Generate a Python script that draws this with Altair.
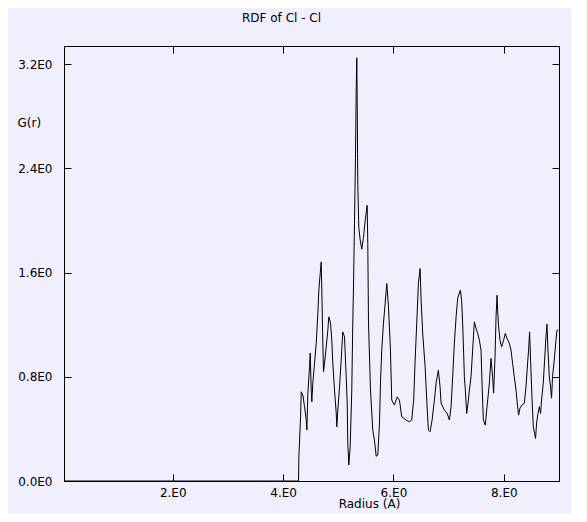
import altair as alt
import pandas as pd

radius = [0.03, 4.280, 4.286, 4.317, 4.329, 4.358, 4.389, 4.420, 4.431, 4.449, 4.480, 4.492,
          4.510, 4.521, 4.539, 4.570, 4.601, 4.630, 4.648, 4.673, 4.691, 4.702, 4.720, 4.733,
          4.751, 4.782, 4.811, 4.829, 4.860, 4.883, 4.901, 4.932, 4.963, 4.974, 4.992, 5.023,
          5.053, 5.082, 5.113, 5.144, 5.162, 5.173, 5.191, 5.216, 5.245, 5.263, 5.276, 5.294,
          5.312, 5.325, 5.336, 5.343, 5.354, 5.372, 5.397, 5.426, 5.457, 5.488, 5.524, 5.535,
          5.548, 5.584, 5.625, 5.656, 5.687, 5.716, 5.747, 5.765, 5.788, 5.819, 5.850, 5.879,
          5.910, 5.946, 5.969, 6.018, 6.067, 6.109, 6.150, 6.186, 6.230, 6.290, 6.331, 6.367,
          6.393, 6.422, 6.452, 6.483, 6.501, 6.530, 6.574, 6.603, 6.633, 6.664, 6.700, 6.742,
          6.773, 6.814, 6.845, 6.863, 6.923, 6.972, 7.014, 7.044, 7.073, 7.104, 7.135, 7.164,
          7.213, 7.236, 7.254, 7.272, 7.285, 7.303, 7.327, 7.352, 7.376, 7.406, 7.435, 7.466,
          7.497, 7.526, 7.557, 7.587, 7.605, 7.629, 7.665, 7.689, 7.714, 7.738, 7.768, 7.797,
          7.815, 7.841, 7.859, 7.877, 7.888, 7.906, 7.931, 7.960, 7.996, 8.027, 8.058, 8.100,
          8.130, 8.159, 8.190, 8.221, 8.250, 8.268, 8.293, 8.329, 8.371, 8.402, 8.431, 8.449,
          8.467, 8.485, 8.510, 8.534, 8.557, 8.575, 8.594, 8.619, 8.643, 8.666, 8.684, 8.715,
          8.739, 8.764, 8.782, 8.800, 8.824, 8.847, 8.865, 8.883, 8.914, 8.945, 8.963, 8.986]

g_r = [0.0, 0.0, 0.186, 0.493, 0.685, 0.660, 0.570, 0.468, 0.391, 0.675, 0.877, 0.982,
       0.698, 0.608, 0.752, 0.905, 1.058, 1.288, 1.465, 1.595, 1.682, 1.465, 1.058, 0.838,
       0.905, 1.030, 1.158, 1.260, 1.212, 1.081, 0.905, 0.698, 0.521, 0.416, 0.544, 0.723,
       0.928, 1.145, 1.107, 0.800, 0.598, 0.291, 0.123, 0.263, 0.698, 1.212, 1.490, 1.979,
       2.485, 2.993, 3.249, 2.916, 2.278, 1.950, 1.850, 1.780, 1.870, 2.000, 2.117, 1.825,
       1.212, 0.698, 0.391, 0.314, 0.190, 0.199, 0.445, 0.752, 1.005, 1.212, 1.365, 1.516,
       1.337, 1.005, 0.621, 0.583, 0.646, 0.621, 0.493, 0.483, 0.468, 0.455, 0.468, 0.621,
       0.928, 1.212, 1.518, 1.631, 1.388, 1.135, 0.877, 0.621, 0.391, 0.378, 0.468, 0.621,
       0.752, 0.851, 0.723, 0.598, 0.544, 0.521, 0.468, 0.570, 0.800, 1.058, 1.260, 1.403,
       1.465, 1.388, 1.212, 0.982, 0.800, 0.698, 0.519, 0.598, 0.698, 0.800, 1.005, 1.222,
       1.173, 1.135, 1.081, 1.005, 0.752, 0.468, 0.429, 0.544, 0.646, 0.752, 0.941, 0.800,
       0.675, 0.953, 1.260, 1.426, 1.311, 1.183, 1.081, 1.030, 1.081, 1.133, 1.094, 1.058,
       1.005, 0.905, 0.800, 0.698, 0.570, 0.506, 0.560, 0.583, 0.596, 0.723, 0.905, 1.005,
       1.145, 0.928, 0.646, 0.416, 0.366, 0.327, 0.445, 0.519, 0.570, 0.519, 0.621, 0.752,
       0.928, 1.107, 1.204, 1.005, 0.800, 0.723, 0.636, 0.800, 0.928, 1.081, 1.158, 1.160]

x_ticks = [2, 4, 6, 8]
y_ticks = [0.0, 0.8, 1.6, 2.4, 3.2]

df = pd.DataFrame({"r": radius, "g": g_r})

FONT = "DejaVu Sans"
xscale = alt.Scale(domain=[0.03, 9.0], nice=False, zero=False)
yscale = alt.Scale(domain=[0.0, 3.34], nice=False, zero=False)

common_axis = dict(grid=False, domain=False, tickColor="black", tickSize=7, tickWidth=1,
                   offset=-7, minExtent=0, labelFont=FONT, labelFontSize=12, labelColor="black",
                   titleFont=FONT, titleFontSize=12, titleFontWeight="normal", titleColor="black")

x_bottom = alt.Axis(orient="bottom", values=x_ticks,
                    labelExpr="format(datum.value, '.0f') + '.E0'",
                    labelPadding=6, title="Radius (A)", titleX=305, titleY=29,
                    titleAlign="center", titleBaseline="middle", **common_axis)
y_left = alt.Axis(orient="left", values=y_ticks,
                  labelExpr="format(datum.value, '.1f') + 'E0'",
                  labelPadding=12, title="G(r)", titleAngle=0, titleX=-54, titleY=76,
                  titleAlign="left", titleBaseline="middle", **common_axis)
x_top = alt.Axis(orient="top", values=x_ticks, labels=False, title=None, **common_axis)
y_right = alt.Axis(orient="right", values=y_ticks, labels=False, title=None, **common_axis)

line = alt.Chart(df).mark_line(color="black", strokeWidth=1, interpolate="linear").encode(
    x=alt.X("r:Q", scale=xscale, axis=x_bottom),
    y=alt.Y("g:Q", scale=yscale, axis=y_left),
)
ghost = alt.Chart(df).mark_line(strokeOpacity=0).encode(
    x=alt.X("r:Q", scale=xscale, axis=x_top),
    y=alt.Y("g:Q", scale=yscale, axis=y_right),
)

chart = alt.layer(line, ghost).resolve_axis(x="independent", y="independent").properties(
    width=495, height=435,
    autosize=alt.AutoSizeParams(type="none"),
    padding={"left": 56, "top": 38, "right": 12, "bottom": 33},
    background="#EFEFFD",
    title=alt.TitleParams("RDF of Cl - Cl", font=FONT, fontSize=12, fontWeight="normal",
                          color="black", anchor="middle", frame="group", dx=-30,
                          offset=16, baseline="middle"),
).configure_view(stroke="black", strokeWidth=1)

chart.save("out.html", embed_options={"renderer": "svg", "actions": False})
